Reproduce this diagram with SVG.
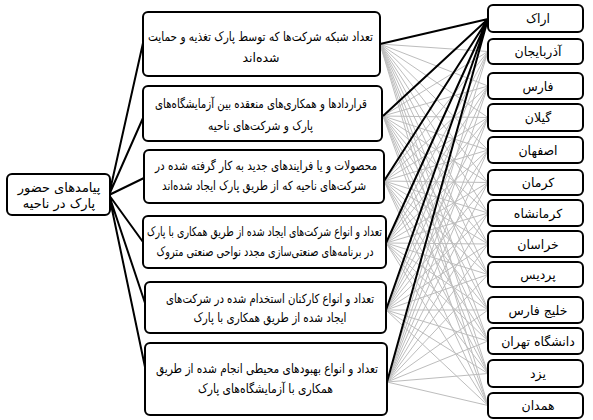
<svg xmlns="http://www.w3.org/2000/svg" width="593" height="420" viewBox="0 0 593 420">
<style>
.box{fill:#fff;stroke:#000;stroke-width:2}
.t{font-family:"DejaVu Sans",sans-serif;font-size:12.5px;fill:#000;text-anchor:middle;dominant-baseline:central}
.l{font-size:13px}
.g{stroke:#bdbdbd;stroke-width:1;fill:none}
.k{stroke:#000;stroke-width:2;fill:none}
</style>
<rect width="593" height="420" fill="#fff"/>
<g id="connectors">
<g class="g">
<path d="M380 44L488 51.5M380 44L488 86M380 44L488 117.5M380 44L488 150M380 44L488 182.5M380 44L488 213M380 44L488 244M380 44L488 274.5M380 44L488 310M380 44L488 341M380 44L488 373.5M380 44L488 405.5"/>
<path d="M383 116L488 51.5M383 116L488 86M383 116L488 117.5M383 116L488 150M383 116L488 182.5M383 116L488 213M383 116L488 244M383 116L488 274.5M383 116L488 310M383 116L488 341M383 116L488 373.5M383 116L488 405.5"/>
<path d="M384 181L488 51.5M384 181L488 86M384 181L488 117.5M384 181L488 150M384 181L488 182.5M384 181L488 213M384 181L488 244M384 181L488 274.5M384 181L488 310M384 181L488 341M384 181L488 373.5M384 181L488 405.5"/>
<path d="M386 243L488 51.5M386 243L488 86M386 243L488 117.5M386 243L488 150M386 243L488 182.5M386 243L488 213M386 243L488 244M386 243L488 274.5M386 243L488 310M386 243L488 341M386 243L488 373.5M386 243L488 405.5"/>
<path d="M386 310L488 51.5M386 310L488 86M386 310L488 117.5M386 310L488 150M386 310L488 182.5M386 310L488 213M386 310L488 244M386 310L488 274.5M386 310L488 310M386 310L488 341M386 310L488 373.5M386 310L488 405.5"/>
<path d="M387 382L488 51.5M387 382L488 86M387 382L488 117.5M387 382L488 150M387 382L488 182.5M387 382L488 213M387 382L488 244M387 382L488 274.5M387 382L488 310M387 382L488 341M387 382L488 373.5M387 382L488 405.5"/>
</g>
<g class="k">
<path d="M380 44L488 19M383 116L488 19M384 181L488 19M386 243L488 19M386 310L488 19M387 382L488 19"/>
<path d="M109 195L143 43M109 195L143 118M109 195L144 178M109 195L143 242M109 195L145 303M109 195L145 367"/>
</g>
</g>
<g id="n0"><rect class="box" x="7" y="174" width="103" height="41" rx="5"/><text class="t l" x="59" y="187">پیامدهای حضور</text><text class="t l" x="59" y="203">پارک در ناحیه</text></g>
<g id="m1"><rect class="box" x="143" y="12" width="237" height="64" rx="5"/><text class="t" x="260.5" y="36" textLength="225" lengthAdjust="spacingAndGlyphs">تعداد شبکه شرکت‌ها که توسط پارک تغذیه و حمایت</text><text class="t" x="261" y="57">شده‌اند</text></g>
<g id="m2"><rect class="box" x="143" y="86" width="239" height="55" rx="5"/><text class="t" x="261" y="103" textLength="212" lengthAdjust="spacingAndGlyphs">قراردادها و همکاری‌های منعقده بین آزمایشگاه‌های</text><text class="t" x="260.5" y="125" textLength="105" lengthAdjust="spacingAndGlyphs">پارک و شرکت‌های ناحیه</text></g>
<g id="m3"><rect class="box" x="144" y="150" width="240" height="53" rx="5"/><text class="t" x="266" y="165" textLength="222" lengthAdjust="spacingAndGlyphs">محصولات و یا فرایندهای جدید به کار گرفته شده در</text><text class="t" x="264" y="185" textLength="204" lengthAdjust="spacingAndGlyphs">شرکت‌های ناحیه که از طریق پارک ایجاد شده‌اند</text></g>
<g id="m4"><rect class="box" x="143" y="216" width="243" height="52" rx="5"/><text class="t" x="264.5" y="231" textLength="235" lengthAdjust="spacingAndGlyphs">تعداد و انواع شرکت‌های ایجاد شده از طریق همکاری با پارک</text><text class="t" x="265" y="251" textLength="217" lengthAdjust="spacingAndGlyphs">در برنامه‌های صنعتی‌سازی مجدد نواحی صنعتی متروک</text></g>
<g id="m5"><rect class="box" x="145" y="282" width="241" height="51" rx="5"/><text class="t" x="270" y="298" textLength="208" lengthAdjust="spacingAndGlyphs">تعداد و انواع کارکنان استخدام شده در شرکت‌های</text><text class="t" x="270" y="317" textLength="153" lengthAdjust="spacingAndGlyphs">ایجاد شده از طریق همکاری با پارک</text></g>
<g id="m6"><rect class="box" x="145" y="343" width="242" height="72" rx="5"/><text class="t" x="267" y="368" textLength="222" lengthAdjust="spacingAndGlyphs">تعداد و انواع بهبودهای محیطی انجام شده از طریق</text><text class="t" x="265.5" y="388" textLength="135" lengthAdjust="spacingAndGlyphs">همکاری با آزمایشگاه‌های پارک</text></g>
<g id="r1"><rect class="box" x="488" y="5" width="95" height="27" rx="5"/><text class="t" x="538" y="18.5">اراک</text></g>
<g id="r2"><rect class="box" x="488" y="39" width="95" height="25" rx="5"/><text class="t" x="538" y="51.5">آذربایجان</text></g>
<g id="r3"><rect class="box" x="488" y="73" width="95" height="26" rx="5"/><text class="t" x="538" y="86">فارس</text></g>
<g id="r4"><rect class="box" x="488" y="104" width="95" height="27" rx="5"/><text class="t" x="538" y="117.5">گیلان</text></g>
<g id="r5"><rect class="box" x="488" y="137" width="95" height="26" rx="5"/><text class="t" x="538" y="150">اصفهان</text></g>
<g id="r6"><rect class="box" x="488" y="170" width="95" height="25" rx="5"/><text class="t" x="538" y="182.5">کرمان</text></g>
<g id="r7"><rect class="box" x="488" y="200" width="95" height="26" rx="5"/><text class="t" x="538" y="213">کرمانشاه</text></g>
<g id="r8"><rect class="box" x="488" y="231" width="95" height="26" rx="5"/><text class="t" x="538" y="244">خراسان</text></g>
<g id="r9"><rect class="box" x="488" y="262" width="95" height="25" rx="5"/><text class="t" x="538" y="274.5">پردیس</text></g>
<g id="r10"><rect class="box" x="488" y="297" width="95" height="26" rx="5"/><text class="t" x="538" y="310">خلیج فارس</text></g>
<g id="r11"><rect class="box" x="488" y="328" width="95" height="26" rx="5"/><text class="t" x="538" y="341">دانشگاه تهران</text></g>
<g id="r12"><rect class="box" x="488" y="360" width="95" height="27" rx="5"/><text class="t" x="538" y="373.5">یزد</text></g>
<g id="r13"><rect class="box" x="488" y="393" width="95" height="25" rx="5"/><text class="t" x="538" y="405.5">همدان</text></g>
</svg>
